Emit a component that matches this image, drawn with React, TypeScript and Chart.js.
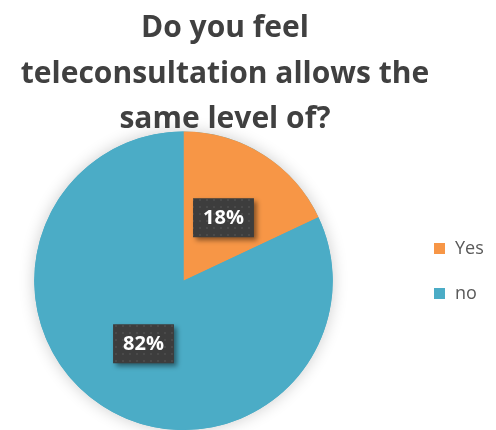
import React, { useEffect, useRef } from "react";
import { Chart, registerables } from "chart.js";

Chart.register(...registerables);

const categories = ["Yes", "no"];
const values = [18, 82];
const colors = ["#F79646", "#4BACC6"];
const titleLines = ["Do you feel", "teleconsultation allows the", "same level of?"];

const FONT = "'Open Sans', sans-serif";

function makeDotPattern(ctx: CanvasRenderingContext2D) {
  const c = document.createElement("canvas");
  c.width = 7;
  c.height = 7;
  const g = c.getContext("2d")!;
  g.fillStyle = "#3d3d3d";
  g.fillRect(0, 0, 7, 7);
  g.fillStyle = "#4a4a4a";
  g.fillRect(3, 3, 2, 2);
  return ctx.createPattern(c, "repeat");
}

const customPlugin = {
  id: "custom",
  beforeDatasetsDraw(chart: any) {
    const ctx = chart.ctx as CanvasRenderingContext2D;
    const a = chart.getDatasetMeta(0).data[0];
    if (!a) return;
    ctx.save();
    ctx.shadowColor = "rgba(0,0,0,0.2)";
    ctx.shadowBlur = 16;
    ctx.beginPath();
    ctx.arc(a.x, a.y, a.outerRadius, 0, Math.PI * 2);
    ctx.fillStyle = colors[1];
    ctx.fill();
    ctx.restore();
  },
  afterDatasetsDraw(chart: any) {
    const ctx = chart.ctx as CanvasRenderingContext2D;
    const meta = chart.getDatasetMeta(0);
    const pattern = makeDotPattern(ctx);
    meta.data.forEach((el: any, i: number) => {
      const pos = el.tooltipPosition();
      const text = values[i] + "%";
      ctx.save();
      ctx.font = `bold 20px ${FONT}`;
      const tw = ctx.measureText(text).width;
      const w = tw + 20;
      const h = 39;
      const x = pos.x - w / 2;
      const y = pos.y - h / 2;
      ctx.shadowColor = "rgba(0,0,0,0.45)";
      ctx.shadowBlur = 5;
      ctx.shadowOffsetX = 3;
      ctx.shadowOffsetY = 3;
      ctx.fillStyle = pattern || "#3d3d3d";
      ctx.fillRect(x, y, w, h);
      ctx.shadowColor = "transparent";
      ctx.fillStyle = "#ffffff";
      ctx.textAlign = "center";
      ctx.textBaseline = "middle";
      ctx.fillText(text, pos.x, pos.y + 1);
      ctx.restore();
    });
  },
  afterDraw(chart: any) {
    const ctx = chart.ctx as CanvasRenderingContext2D;
    ctx.save();
    ctx.fillStyle = "#404040";
    ctx.font = `bold 30px ${FONT}`;
    ctx.textAlign = "center";
    ctx.textBaseline = "alphabetic";
    const baselines = [37, 83, 128];
    titleLines.forEach((line, i) => ctx.fillText(line, 225, baselines[i]));
    // legend
    ctx.font = `18px ${FONT}`;
    ctx.textAlign = "left";
    ctx.textBaseline = "middle";
    const legY = [249, 294];
    categories.forEach((c, i) => {
      ctx.fillStyle = colors[i];
      ctx.fillRect(434, legY[i] - 6, 11, 11);
      ctx.fillStyle = "#595959";
      ctx.fillText(c, 455, legY[i]);
    });
    ctx.restore();
  },
};

export default function App() {
  const ref = useRef<HTMLCanvasElement>(null);
  useEffect(() => {
    document.body.style.margin = "0";
    const chart = new Chart(ref.current!, {
      type: "pie",
      data: {
        labels: categories,
        datasets: [
          {
            data: values,
            backgroundColor: colors,
            borderWidth: 0,
          },
        ],
      },
      options: {
        animation: false,
        responsive: false,
        layout: { padding: { left: 34, right: 163, top: 131.5, bottom: 0 } },
        plugins: {
          legend: { display: false },
          title: { display: false },
          tooltip: { enabled: false },
        },
      },
      plugins: [customPlugin],
    });
    return () => chart.destroy();
  }, []);
  return (
    <div style={{ position: "fixed", left: 0, top: 0, width: 496, height: 430, background: "#fff" }}>
      <canvas ref={ref} width={496} height={430} style={{ width: 496, height: 430 }} />
    </div>
  );
}
